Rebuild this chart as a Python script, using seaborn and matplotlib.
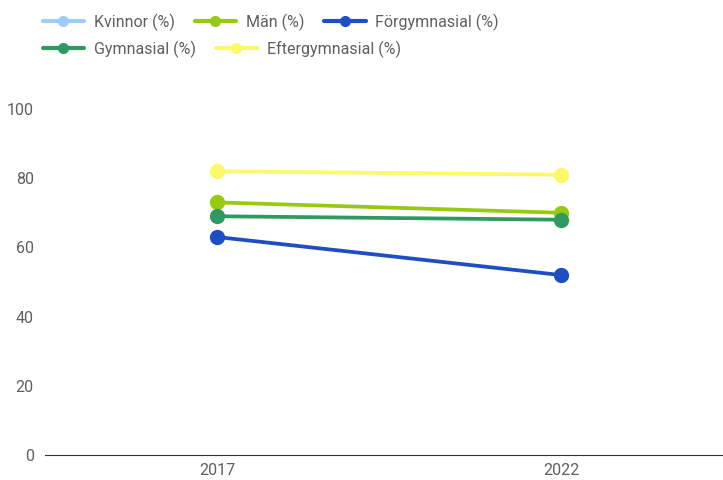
import matplotlib
matplotlib.use("Agg")
import matplotlib.pyplot as plt
import seaborn as sns
import numpy as np
import pandas as pd
from matplotlib.lines import Line2D

years = ["2017", "2022"]
kvinnor = [np.nan, np.nan]
man = [73, 70]
forgymnasial = [63, 52]
gymnasial = [69, 68]
eftergymnasial = [82, 81]

series = ["Kvinnor (%)", "Män (%)", "Förgymnasial (%)", "Gymnasial (%)", "Eftergymnasial (%)"]
colors = ["#9fcbf7", "#98c912", "#1d4fc2", "#2f9a5f", "#fbf96a"]

df = pd.DataFrame({
    "year": years * 5,
    "value": kvinnor + man + forgymnasial + gymnasial + eftergymnasial,
    "serie": [s for s in series for _ in years],
})

sns.set_style("white")
plt.rcParams["font.family"] = ["Roboto", "DejaVu Sans"]

fig = plt.figure(figsize=(7.23, 4.80), dpi=100)
ax = fig.add_axes([0.0622, 0.052, 0.952, 0.721])

sns.lineplot(data=df, x="year", y="value", hue="serie", hue_order=series,
             palette=dict(zip(series, colors)), marker="o", markersize=11,
             markeredgewidth=0, linewidth=2.7, legend=False, ax=ax)

ax.set_xlim(-0.5, 1.5)
ax.set_ylim(0, 100)
ax.set_yticks([0, 20, 40, 60, 80, 100])
ax.set_xlabel("")
ax.set_ylabel("")
for s in ["top", "right", "left"]:
    ax.spines[s].set_visible(False)
ax.spines["bottom"].set_color("#333333")
ax.spines["bottom"].set_linewidth(0.8)
ax.tick_params(axis="both", length=0, labelsize=11.5, labelcolor="#5f5f5f", pad=8)
ax.tick_params(axis="x", pad=6)

def handle(c):
    return Line2D([0], [0], color=c, lw=3, marker="o", markersize=8, markeredgewidth=0)

h = [handle(c) for c in colors]
leg1 = fig.legend(h[:3], series[:3], ncol=3, loc="upper left", bbox_to_anchor=(0.05, 0.985),
                  frameon=False, fontsize=11.5, handlelength=2.6, handletextpad=0.6,
                  columnspacing=1.25, borderaxespad=0)
for t in leg1.get_texts():
    t.set_color("#5f5f5f")
leg2 = fig.legend(h[3:], series[3:], ncol=2, loc="upper left", bbox_to_anchor=(0.05, 0.929),
                  frameon=False, fontsize=11.5, handlelength=2.6, handletextpad=0.6,
                  columnspacing=1.25, borderaxespad=0)
for t in leg2.get_texts():
    t.set_color("#5f5f5f")

fig.savefig("out.png", dpi=100)
